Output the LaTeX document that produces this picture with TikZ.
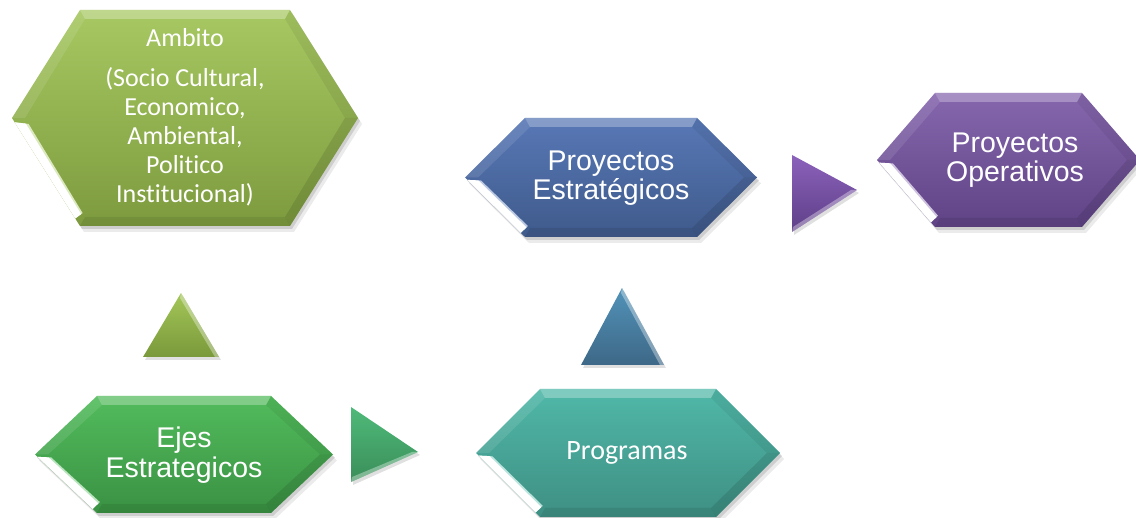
\documentclass[tikz,border=0pt]{standalone}
\usepackage{fontspec}
\setmainfont[Ligatures=NoCommon]{Carlito}
\newfontfamily\arialfont{Liberation Sans}
\usetikzlibrary{positioning,calc}

\definecolor{ambitotop}{HTML}{A7C862}
\definecolor{ambitobot}{HTML}{7D9B3E}
\definecolor{ejestop}{HTML}{52BC5C}
\definecolor{ejesbot}{HTML}{3A9143}
\definecolor{progtop}{HTML}{50B8A8}
\definecolor{progbot}{HTML}{3E8F83}
\definecolor{estrtop}{HTML}{5878B6}
\definecolor{estrbot}{HTML}{3F5A8B}
\definecolor{opertop}{HTML}{8667AE}
\definecolor{operbot}{HTML}{5F4385}
\definecolor{tri1top}{HTML}{A3C658}
\definecolor{tri1bot}{HTML}{7A993B}
\definecolor{tri2top}{HTML}{4FBA7A}
\definecolor{tri2bot}{HTML}{3A8E59}
\definecolor{tri3top}{HTML}{5192B8}
\definecolor{tri3bot}{HTML}{3E6887}
\definecolor{tri4top}{HTML}{8C62BB}
\definecolor{tri4bot}{HTML}{5E3F88}

\tikzset{
  calibri/.style={text=white,align=center,font=\fontsize{26}{29}\selectfont},
  arial/.style={text=white,align=center,font=\arialfont\fontsize{28.5}{29.5}\selectfont},
}

% bevelled hexagon: left x, right x, top y, bottom y, inset, top colour, bottom colour
\newcommand\hexa[7]{%
  \pgfmathsetmacro\ym{(#3+#4)/2}
  \coordinate (hL) at (#1,\ym);
  \coordinate (hTL) at ({#1+#5},#3);
  \coordinate (hTR) at ({#2-#5},#3);
  \coordinate (hR) at (#2,\ym);
  \coordinate (hBR) at ({#2-#5},#4);
  \coordinate (hBL) at ({#1+#5},#4);
  \coordinate (iL) at ({#1+13},\ym);
  \coordinate (iTL) at ({#1+#5+5},{#3+9});
  \coordinate (iTR) at ({#2-#5-5},{#3+9});
  \coordinate (iR) at ({#2-13},\ym);
  \coordinate (iBR) at ({#2-#5-5},{#4-9});
  \coordinate (iBL) at ({#1+#5+5},{#4-9});
  \fill[black,opacity=.08] ([xshift=4pt,yshift=-6pt]hL) -- ([xshift=4pt,yshift=-6pt]hTL)
    -- ([xshift=4pt,yshift=-6pt]hTR) -- ([xshift=4pt,yshift=-6pt]hR)
    -- ([xshift=4pt,yshift=-6pt]hBR) -- ([xshift=4pt,yshift=-6pt]hBL) -- cycle;
  \fill[black,opacity=.12] ([xshift=2pt,yshift=-3pt]hL) -- ([xshift=2pt,yshift=-3pt]hTL)
    -- ([xshift=2pt,yshift=-3pt]hTR) -- ([xshift=2pt,yshift=-3pt]hR)
    -- ([xshift=2pt,yshift=-3pt]hBR) -- ([xshift=2pt,yshift=-3pt]hBL) -- cycle;
  \shade[top color=#6,bottom color=#7] (hL) -- (hTL) -- (hTR) -- (hR) -- (hBR) -- (hBL) -- cycle;
  % bevel strips
  \fill[white,opacity=.28] (hTL) -- (hTR) -- (iTR) -- (iTL) -- cycle;
  \fill[white,opacity=.10] (hL) -- (hTL) -- (iTL) -- (iL) -- cycle;
  \fill[black,opacity=.06] (hTR) -- (hR) -- (iR) -- (iTR) -- cycle;
  \fill[black,opacity=.10] (hR) -- (hBR) -- (iBR) -- (iR) -- cycle;
  \fill[black,opacity=.08] (hBR) -- (hBL) -- (iBL) -- (iBR) -- cycle;
  % white highlight on the lower left edge
  \fill[white!60!#6] ($(hL)!.04!(hBL)$) -- ($(hL)!.93!(hBL)$) -- ($(iL)!.96!(iBL)$) -- ($(iL)!.06!(iBL)$) -- cycle;
  \fill[white] ($(hL)!.04!(hBL)$) -- ($(hL)!.93!(hBL)$) -- ($($(hL)!.93!(hBL)$)!.8!($(iL)!.96!(iBL)$)$)
    -- ($($(hL)!.04!(hBL)$)!.8!($(iL)!.06!(iBL)$)$) -- cycle;
}

\begin{document}
\begin{tikzpicture}[x=1pt,y=-1pt]
  \useasboundingbox (0,0) rectangle (1136,518);

  % hexagons
  \hexa{12}{358}{10}{226}{68}{ambitotop}{ambitobot}
  \node[calibri] (ambito) at (185,117)
    {Ambito\\[11pt](Socio Cultural,\\Economico,\\Ambiental,\\Politico\\Institucional)};

  \hexa{35}{333}{396}{513}{62}{ejestop}{ejesbot}
  \node[arial] (ejes) at (184,455) {Ejes\\Estrategicos};

  \hexa{476}{780}{389}{517}{64}{progtop}{progbot}
  \node[calibri,font=\fontsize{28}{30}\selectfont] (programas) at (627,453) {Programas};

  \hexa{465}{757}{118}{237}{60}{estrtop}{estrbot}
  \node[arial] (estrategicos) at (611,178) {Proyectos\\Estratégicos};

  \hexa{877}{1140}{93}{227}{58}{opertop}{operbot}
  \node[arial] (operativos) at (1015,160) {Proyectos\\Operativos};

  % triangles
  \fill[black,opacity=.12] (145,360) -- (183,296) -- (221,360) -- cycle;
  \shade[top color=tri1top,bottom color=tri1bot] (143,357) -- (181,293) -- (219,357) -- cycle;
  \fill[white,opacity=.35] (181,293) -- (219,357) -- (215,357) -- (180,298) -- cycle;

  \fill[black,opacity=.12] (353,410) -- (420,455) -- (353,485) -- cycle;
  \shade[top color=tri2top,bottom color=tri2bot] (351,407) -- (418,452) -- (351,482) -- cycle;
  \fill[white,opacity=.35] (418,452) -- (351,482) -- (352,477) -- (412,452) -- cycle;

  \fill[black,opacity=.12] (583,368) -- (624,291) -- (666,368) -- cycle;
  \shade[top color=tri3top,bottom color=tri3bot] (581,365) -- (622,288) -- (664,365) -- cycle;
  \fill[white,opacity=.35] (622,288) -- (664,365) -- (660,365) -- (621,293) -- cycle;

  \fill[black,opacity=.12] (794,158) -- (859,193) -- (794,235) -- cycle;
  \shade[top color=tri4top,bottom color=tri4bot] (792,155) -- (857,190) -- (792,232) -- cycle;
  \fill[white,opacity=.35] (857,190) -- (792,232) -- (793,227) -- (851,190) -- cycle;
\end{tikzpicture}
\end{document}
